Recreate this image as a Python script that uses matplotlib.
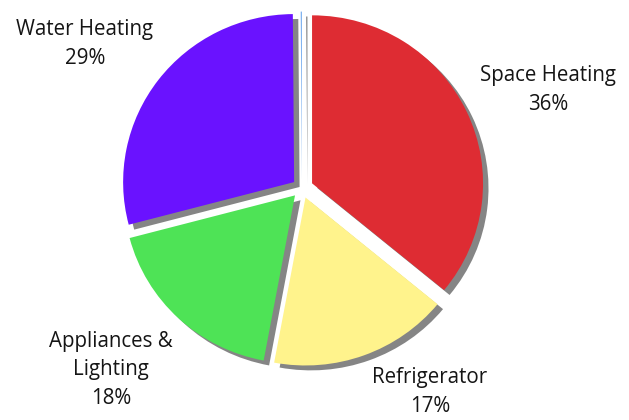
import matplotlib
matplotlib.use("Agg")
import matplotlib.pyplot as plt

categories = ["Space Heating", "Refrigerator", "Appliances &\nLighting", "Water Heating", ""]
values = [36, 17, 18, 29, 0.12]
colors = ["#DE2C33", "#FFF38C", "#4EE356", "#6A12FF", "#7FB2F0"]

W, H = 629, 420
fig = plt.figure(figsize=(W / 100, H / 100), dpi=100)
ax = fig.add_axes([0, 0, 1, 1])

wedges, _ = ax.pie(
    values,
    colors=colors,
    startangle=90,
    counterclock=False,
    explode=[0.065, 0.06, 0.06, 0.058, 0.05],
    radius=1.0,
    shadow={"ox": 0.023, "oy": -0.021, "facecolor": "#858585",
            "edgecolor": "#858585", "alpha": 1.0},
    wedgeprops={"linewidth": 0},
)

# pixel geometry of the pie
cx, cy, rx, ry = 302, 188, 171, 168
ax.set_aspect("auto")
ax.set_xlim((0 - cx) / rx, (W - cx) / rx)
ax.set_ylim((cy - H) / ry, cy / ry)
ax.axis("off")

font = "Open Sans"
fs = 14.8
label_pos = {
    "Water Heating": (85, 44),
    "Space Heating": (548, 90),
    "Appliances &\nLighting": (111, 370),
    "Refrigerator": (430, 392),
}
for cat, v in zip(categories, values):
    if not cat:
        continue
    px, py = label_pos[cat]
    fig.text(px / W, 1 - py / H, f"{cat}\n{v}%", ha="center", va="center",
             fontsize=fs, family=font, color="#151515", linespacing=1.5)

fig.savefig("out.png", dpi=100)
